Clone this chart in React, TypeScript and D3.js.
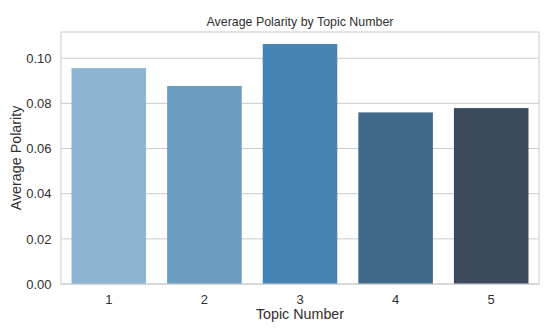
import React from "react";
import * as d3 from "d3";

const topics = ["1", "2", "3", "4", "5"];
const polarity = [0.0956, 0.0877, 0.1063, 0.0760, 0.0779];
const barColors = ["#8db4d1", "#6a9cc0", "#4884b4", "#3f6a8b", "#3a4c5c"];
const yTicks = [0, 0.02, 0.04, 0.06, 0.08, 0.1];

const W = 550, H = 330;
const M = { left: 61, right: 11, top: 32, bottom: 46 };

export default function App() {
  const x = d3
    .scaleBand<string>()
    .domain(topics)
    .range([M.left, W - M.right])
    .paddingInner(0.22)
    .paddingOuter(0.11);
  const yMax = (d3.max(polarity) as number) * 1.05;
  const y = d3.scaleLinear().domain([0, yMax]).range([H - M.bottom, M.top]);
  const font = "Arial, 'Liberation Sans', Helvetica, sans-serif";
  const txt = "#303030";
  const plotW = W - M.left - M.right;
  const cx = M.left + plotW / 2;
  const cy = (M.top + H - M.bottom) / 2;
  return (
    <svg
      width={W}
      height={H}
      style={{ position: "absolute", left: 0, top: 0, background: "#fff" }}
      fontFamily={font}
    >
      {yTicks.map((t) => (
        <g key={t}>
          <line
            x1={M.left}
            x2={W - M.right}
            y1={y(t)}
            y2={y(t)}
            stroke="#cccccc"
            strokeWidth={1}
          />
          <text
            x={M.left - 9.5}
            y={y(t)}
            dy="0.36em"
            textAnchor="end"
            fontSize={13}
            fill={txt}
          >
            {t.toFixed(2)}
          </text>
        </g>
      ))}
      {topics.map((c, i) => (
        <rect
          key={c}
          x={x(c)}
          y={y(polarity[i])}
          width={x.bandwidth()}
          height={y(0) - y(polarity[i])}
          fill={barColors[i]}
        />
      ))}
      <rect
        x={M.left}
        y={M.top}
        width={plotW}
        height={H - M.bottom - M.top}
        fill="none"
        stroke="#cccccc"
        strokeWidth={1.1}
      />
      {topics.map((c) => (
        <text
          key={c}
          x={(x(c) as number) + x.bandwidth() / 2}
          y={303.5}
          textAnchor="middle"
          fontSize={13}
          fill={txt}
        >
          {c}
        </text>
      ))}
      <text x={cx} y={319} textAnchor="middle" fontSize={14.3} fill={txt}>
        Topic Number
      </text>
      <text
        transform={`translate(20.5,${cy}) rotate(-90)`}
        textAnchor="middle"
        fontSize={14.3}
        fill={txt}
      >
        Average Polarity
      </text>
      <text x={cx} y={26} textAnchor="middle" fontSize={12.4} fill={txt}>
        Average Polarity by Topic Number
      </text>
    </svg>
  );
}
